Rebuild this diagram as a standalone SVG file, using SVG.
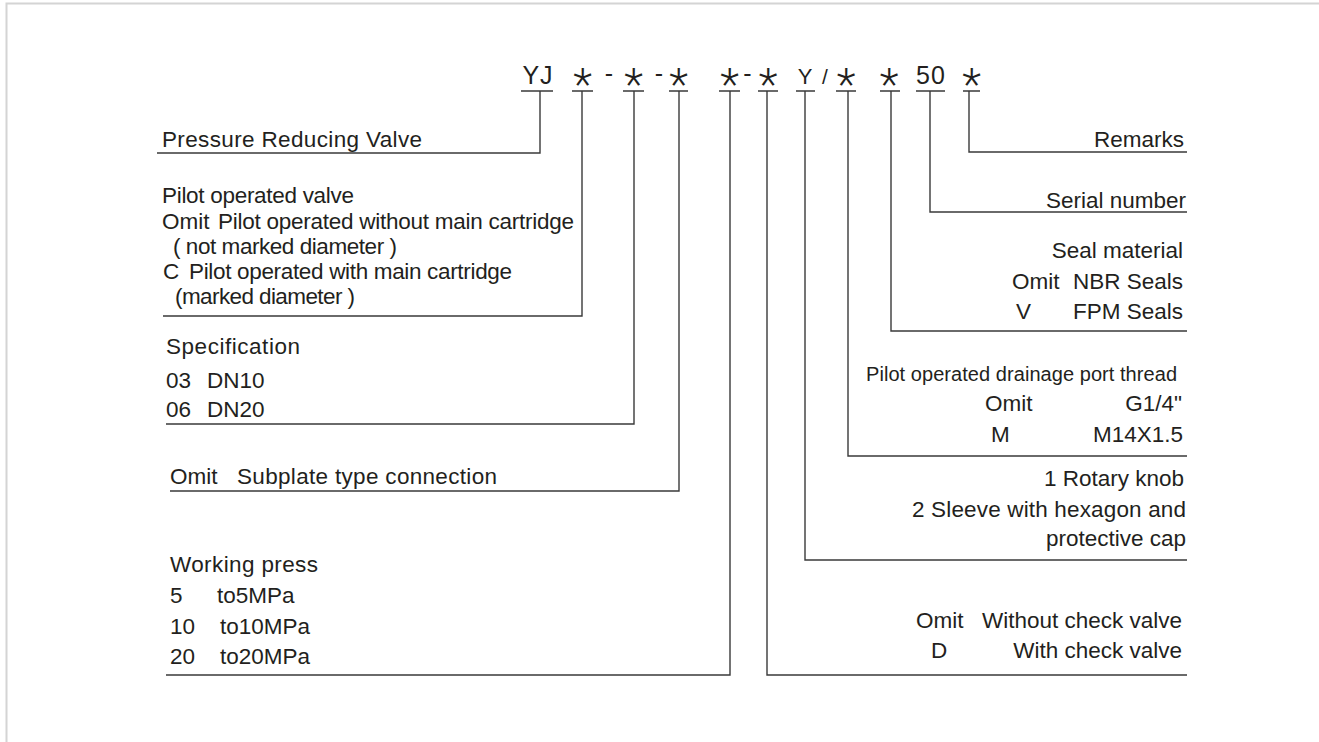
<svg xmlns="http://www.w3.org/2000/svg" width="1319" height="742" viewBox="0 0 1319 742">
<style>
text{font-family:"Liberation Sans",Arial,sans-serif;fill:#231f20;font-size:22.5px}
.hd{font-size:25px;letter-spacing:1px}
.ast{font-family:Roboto,"Liberation Sans",sans-serif;font-weight:300;font-size:44px}
.sm{font-size:20px}
.end{text-anchor:end}
.mid{text-anchor:middle}
.ln{fill:none;stroke:#3a3a3a;stroke-width:1.4}
.frame{fill:none;stroke:#d4d4d4;stroke-width:2}
</style>
<rect width="1319" height="742" fill="#ffffff"/>
<path class="frame" d="M6.5 742 V3.5 H1319"/>
<g id="code">
<text class="hd mid" x="538" y="84">YJ</text>
<text class="ast mid" x="582.5" y="100">*</text>
<text class="hd mid" x="609.5" y="82">-</text>
<text class="ast mid" x="633.5" y="100">*</text>
<text class="hd mid" x="659.5" y="82">-</text>
<text class="ast mid" x="678.5" y="100">*</text>
<text class="ast mid" x="729.5" y="100">*</text>
<text class="hd mid" x="748" y="82">-</text>
<text class="ast mid" x="768" y="100">*</text>
<text class="mid" x="805" y="84" style="font-size:22px">Y</text>
<text class="mid" x="825" y="84" style="font-size:21px">/</text>
<text class="ast mid" x="846" y="100">*</text>
<text class="ast mid" x="889" y="100">*</text>
<text class="hd mid" x="931" y="84">50</text>
<text class="ast mid" x="971.5" y="100">*</text>
</g>
<g id="connectors">
<path class="ln" d="M521 91 H553 M540 91 V153 H157"/>
<path class="ln" d="M572 91 H593 M582 91 V316 H163"/>
<path class="ln" d="M623 91 H644 M634 91 V424 H166"/>
<path class="ln" d="M669 91 H688 M679 91 V491 H170"/>
<path class="ln" d="M719 91 H740 M730 91 V675 H166"/>
<path class="ln" d="M758 91 H778 M767 91 V675 H1187"/>
<path class="ln" d="M796 91 H815 M805 91 V560 H1187"/>
<path class="ln" d="M836 91 H856 M848 91 V456 H1187"/>
<path class="ln" d="M880 91 H900 M891 91 V331 H1187"/>
<path class="ln" d="M916 91 H945 M930 91 V212 H1187"/>
<path class="ln" d="M963 91 H980 M969 91 V152 H1187"/>
</g>
<g id="node-valve-type">
<text x="162" y="147" textLength="260" lengthAdjust="spacing">Pressure Reducing Valve</text>
</g>
<g id="node-pilot">
<text x="162" y="203" textLength="192" lengthAdjust="spacing">Pilot operated valve</text>
<text x="162" y="229">Omit<tspan x="218" textLength="356" lengthAdjust="spacing">Pilot operated without main cartridge</tspan></text>
<text x="173" y="254" textLength="224" lengthAdjust="spacing">( not marked diameter )</text>
<text x="163" y="279">C<tspan x="189" textLength="323" lengthAdjust="spacing">Pilot operated with main cartridge</tspan></text>
<text x="175" y="304" textLength="180" lengthAdjust="spacing">(marked diameter )</text>
</g>
<g id="node-specification">
<text x="166" y="354" textLength="134" lengthAdjust="spacing">Specification</text>
<text x="166" y="388">03<tspan x="207">DN10</tspan></text>
<text x="166" y="417">06<tspan x="207">DN20</tspan></text>
</g>
<g id="node-connection">
<text x="170" y="484">Omit<tspan x="237" textLength="260" lengthAdjust="spacing">Subplate type connection</tspan></text>
</g>
<g id="node-working-press">
<text x="170" y="572" textLength="148" lengthAdjust="spacing">Working press</text>
<text x="170" y="603">5<tspan x="217">to5MPa</tspan></text>
<text x="170" y="634">10<tspan x="220">to10MPa</tspan></text>
<text x="170" y="664">20<tspan x="220">to20MPa</tspan></text>
</g>
<g id="node-remarks">
<text class="end" x="1184" y="147">Remarks</text>
</g>
<g id="node-serial">
<text class="end" x="1186" y="208">Serial number</text>
</g>
<g id="node-seal">
<text class="end" x="1183" y="258">Seal material</text>
<text x="1012" y="289">Omit</text>
<text class="end" x="1183" y="289">NBR Seals</text>
<text x="1016" y="319">V</text>
<text class="end" x="1183" y="319">FPM Seals</text>
</g>
<g id="node-drain">
<text class="sm" x="866" y="381" textLength="311" lengthAdjust="spacing">Pilot operated drainage port thread</text>
<text x="985" y="411">Omit</text>
<text class="end" x="1182" y="411">G1/4"</text>
<text x="991" y="442">M</text>
<text class="end" x="1183" y="442">M14X1.5</text>
</g>
<g id="node-adjust">
<text class="end" x="1184" y="486">1 Rotary knob</text>
<text class="end" x="1186" y="517" textLength="274" lengthAdjust="spacing">2 Sleeve with hexagon and</text>
<text class="end" x="1186" y="546">protective cap</text>
</g>
<g id="node-check">
<text x="916" y="628">Omit</text>
<text class="end" x="1182" y="628">Without check valve</text>
<text x="931" y="658">D</text>
<text class="end" x="1182" y="658">With check valve</text>
</g>
</svg>
